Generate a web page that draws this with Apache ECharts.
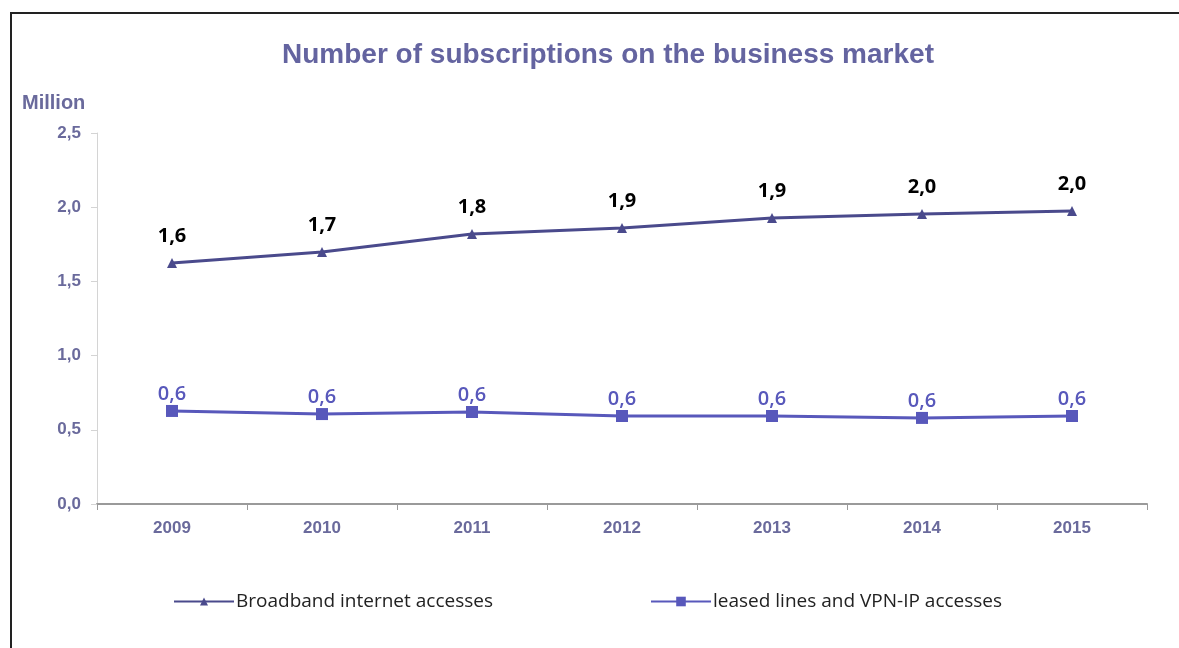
<!DOCTYPE html>
<html>
<head>
<meta charset="utf-8">
<script src="https://cdn.jsdelivr.net/npm/echarts@6/dist/echarts.min.js"></script>
<style>
  html, body { margin: 0; padding: 0; background: #ffffff; }
  #chart { width: 1179px; height: 648px; }
</style>
</head>
<body>
<div id="chart"></div>
<script>
// Years on the category axis
const years = ['2009', '2010', '2011', '2012', '2013', '2014', '2015'];
// Subscriptions, in millions
const broadband = [1.624, 1.698, 1.819, 1.860, 1.927, 1.954, 1.974];
const leasedVpn = [0.627, 0.606, 0.620, 0.593, 0.593, 0.580, 0.593];
const seriesNames = ['Broadband internet accesses', 'leased lines and VPN-IP accesses'];

const commaFmt = v => Number(v).toFixed(1).replace('.', ',');
const axisLabelColor = '#6a6a9c';

const chart = echarts.init(document.getElementById('chart'), null, { renderer: 'canvas' });

chart.setOption({
  backgroundColor: '#ffffff',
  animation: false,
  title: {
    text: 'Number of subscriptions on the business market',
    left: 603,
    top: 36,
    textAlign: 'center',
    textStyle: {
      fontFamily: 'Liberation Sans, Arial, sans-serif',
      fontWeight: 'bold',
      fontSize: 28,
      color: '#6464a0'
    }
  },
  graphic: [
    {
      type: 'polyline',
      shape: { points: [[11, 648], [11, 13], [1179, 13]] },
      style: { stroke: '#222222', lineWidth: 2, fill: null }
    },
    {
      type: 'text',
      left: 22,
      top: 93,
      style: {
        text: 'Million',
        font: 'bold 20px "Liberation Sans", Arial, sans-serif',
        fill: axisLabelColor
      }
    }
  ],
  legend: [
    {
      data: [seriesNames[0]],
      left: 173,
      top: 592,
      padding: 0,
      itemWidth: 60,
      itemHeight: 10,
      textStyle: { fontFamily: 'Open Sans, sans-serif', fontSize: 19, color: '#222222', padding: [0, 0, 0, -3] }
    },
    {
      data: [seriesNames[1]],
      left: 650,
      top: 592,
      padding: 0,
      itemWidth: 60,
      itemHeight: 12,
      textStyle: { fontFamily: 'Open Sans, sans-serif', fontSize: 19, color: '#222222', padding: [0, 0, 0, -3] }
    }
  ],
  grid: { left: 97, right: 32, top: 133, bottom: 144 },
  xAxis: {
    type: 'category',
    data: years,
    boundaryGap: true,
    axisLine: { lineStyle: { color: '#9a9a9a', width: 2 } },
    axisTick: { show: true, length: 6, lineStyle: { color: '#9a9a9a' } },
    axisLabel: {
      margin: 16,
      fontFamily: 'Liberation Sans, Arial, sans-serif',
      fontWeight: 'bold',
      fontSize: 17,
      color: axisLabelColor
    },
    splitLine: { show: false }
  },
  yAxis: {
    type: 'value',
    min: 0,
    max: 2.5,
    interval: 0.5,
    axisLine: { show: true, lineStyle: { color: '#d4d4d4', width: 1 } },
    axisTick: { show: true, length: 6, lineStyle: { color: '#d4d4d4' } },
    splitLine: { show: false },
    axisLabel: {
      margin: 16,
      formatter: v => commaFmt(v),
      fontFamily: 'Liberation Sans, Arial, sans-serif',
      fontWeight: 'bold',
      fontSize: 17,
      color: axisLabelColor
    }
  },
  series: [
    {
      name: seriesNames[0],
      type: 'line',
      data: broadband,
      symbol: 'triangle',
      symbolSize: 10,
      lineStyle: { color: '#4a4a8c', width: 3 },
      itemStyle: { color: '#4a4a8c' },
      label: {
        show: true,
        position: 'top',
        distance: 12,
        formatter: p => commaFmt(p.value),
        fontFamily: 'Open Sans, sans-serif',
        fontWeight: 'bold',
        fontSize: 20,
        color: '#000000'
      }
    },
    {
      name: seriesNames[1],
      type: 'line',
      data: leasedVpn,
      symbol: 'rect',
      symbolSize: 12,
      lineStyle: { color: '#5858bb', width: 3 },
      itemStyle: { color: '#5858bb' },
      label: {
        show: true,
        position: 'top',
        distance: 1,
        formatter: p => commaFmt(p.value),
        fontFamily: 'Open Sans, sans-serif',
        fontWeight: 600,
        fontSize: 20,
        color: '#5858bb'
      }
    }
  ]
});
</script>
</body>
</html>
